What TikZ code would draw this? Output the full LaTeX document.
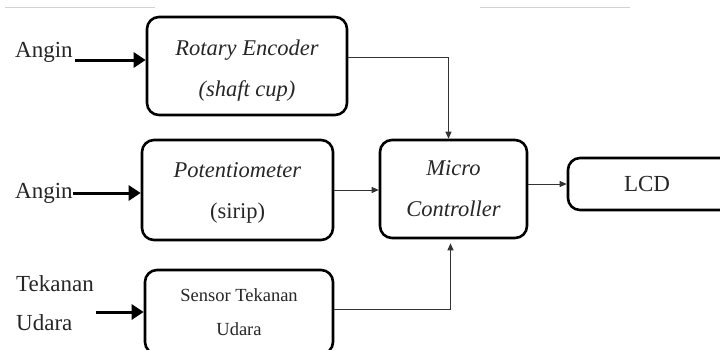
\documentclass[tikz,border=0pt]{standalone}
\usepackage{fontspec}
\setmainfont{Liberation Serif}
\usetikzlibrary{arrows.meta}

\begin{document}
\begin{tikzpicture}[x = 1pt, y = -1pt,
        block/.style = {draw, line width = 2.6pt, rounded corners = 12pt, align = center, inner sep = 0pt, text = black!85},
        bigtext/.style = {font = \fontsize{22.5}{41}\selectfont},
        inlabel/.style = {inner sep = 0pt, text = black!85, font = \fontsize{23}{39}\selectfont},
        inarrow/.style = {line width = 3pt, -{Triangle[length = 12pt, width = 15pt]}},
        sigarrow/.style = {line width = 1pt, draw = black!80, -{Triangle[length = 7pt, width = 6pt]}}]
    \useasboundingbox (0, 0) rectangle (720, 349);
    % faint page rules at the top
    \draw [gray!35, line width = 0.8pt] (5, 7) -- (155, 7);
    \draw [gray!35, line width = 0.8pt] (480, 7) -- (630, 7);
    % blocks
    \node [block, bigtext, minimum width = 200, minimum height = 98] (enc) at (247, 66) {\rule{0pt}{24pt}\textit{Rotary Encoder}\\\textit{(shaft cup)}};
    \node [block, bigtext, minimum width = 191, minimum height = 100] (pot) at (237.5, 190) {\rule{0pt}{20pt}\textit{Potentiometer}\\(sirip)};
    \node [block, font = \fontsize{18.5}{34}\selectfont, minimum width = 188, minimum height = 84] (sen) at (239, 312) {Sensor Tekanan\\Udara};
    \node [block, bigtext, minimum width = 147, minimum height = 98] (mc) at (453.5, 189) {\textit{Micro}\\\textit{Controller}};
    \node [block, font = \fontsize{23}{26}\selectfont, minimum width = 180, minimum height = 52] (lcd) at (658, 184) {\hspace*{-22pt}LCD};
    % inputs
    \node [inlabel, anchor = base west] (ang1) at (15, 57) {Angin};
    \node [inlabel, anchor = base west] (ang2) at (15, 198) {Angin};
    \node [inlabel, anchor = west, align = left] (tek) at (16, 303) {Tekanan\\Udara};
    \draw [inarrow] ([xshift = 2pt, yshift = -3pt]ang1.base east) -- ([yshift = -3pt]ang1.base east -| enc.west);
    \draw [inarrow] ([yshift = 5pt]ang2.base east) -- ([yshift = 5pt]ang2.base east -| pot.west);
    \draw [inarrow] ([xshift = 2pt]tek.east |- sen.west) -- (sen.west);
    % signals
    \draw [sigarrow] ([yshift = 9pt]enc.east) -| ([xshift = -5pt]mc.north);
    \draw [sigarrow] (pot.east) -- (pot.east -| mc.west);
    \draw [sigarrow, shorten > = 4pt] ([yshift = 3pt]sen.east) -| ([xshift = -3pt]mc.south);
    \draw [sigarrow] (mc.east |- lcd.west) -- (lcd.west);
\end{tikzpicture}
\end{document}
